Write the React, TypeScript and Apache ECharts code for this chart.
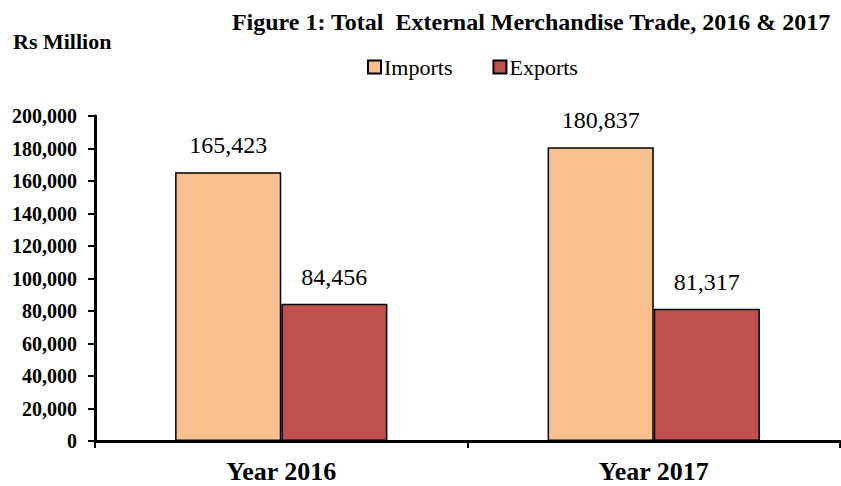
import React, { useEffect, useRef } from "react";
import * as echarts from "echarts";

const categories = ["Year 2016", "Year 2017"];
const imports = [165423, 180837];
const exports_ = [84456, 81317];
const yMin = 0;
const yMax = 200000;
const yInterval = 20000;

const FONT = "'Liberation Serif', 'Times New Roman', serif";

export default function App() {
  const ref = useRef<HTMLDivElement>(null);
  useEffect(() => {
    const chart = echarts.init(ref.current!, null, { renderer: "svg" });
    const fmt = (v: number) => v.toLocaleString("en-US");
    chart.setOption({
      animation: false,
      textStyle: { fontFamily: FONT, color: "#000" },
      title: [
        {
          text: "Figure 1: Total  External Merchandise Trade, 2016 & 2017",
          right: 5,
          top: 5,
          textStyle: { fontFamily: FONT, fontWeight: "bold", fontSize: 24, color: "#000" },
        },
        {
          text: "Rs Million",
          left: 8,
          top: 25,
          textStyle: { fontFamily: FONT, fontWeight: "bold", fontSize: 22, color: "#000" },
        },
      ],
      legend: {
        top: 51,
        left: 362,
        itemWidth: 13,
        itemHeight: 13,
        itemGap: 40,
        icon: "rect",
        textStyle: { fontFamily: FONT, fontSize: 22, color: "#000", padding: [0, 0, 0, -2] },
        data: ["Imports", "Exports"],
      },
      grid: { left: 95, right: 1, top: 116, bottom: 45, containLabel: false },
      xAxis: {
        type: "category",
        data: categories,
        axisLine: { lineStyle: { color: "#000", width: 3 } },
        axisTick: { show: true, length: 7, lineStyle: { color: "#000", width: 2 } },
        axisLabel: { fontFamily: FONT, fontWeight: "bold", fontSize: 26, color: "#000", margin: 17 },
      },
      yAxis: {
        type: "value",
        min: yMin,
        max: yMax,
        interval: yInterval,
        splitLine: { show: false },
        axisLine: { show: true, lineStyle: { color: "#000", width: 3 } },
        axisTick: { show: true, length: 7, lineStyle: { color: "#000", width: 2 } },
        axisLabel: {
          fontFamily: FONT,
          fontWeight: "bold",
          fontSize: 20,
          color: "#000",
          margin: 18,
          formatter: (v: number) => fmt(v),
        },
      },
      series: [
        {
          name: "Imports",
          type: "bar",
          data: imports,
          barGap: "0%",
          barCategoryGap: "43%",
          itemStyle: { color: "#F9C08F", borderColor: "#000", borderWidth: 1.5 },
          label: {
            show: true,
            position: "top",
            distance: 15,
            fontFamily: FONT,
            fontSize: 24,
            color: "#000",
            formatter: (p: any) => fmt(p.value),
          },
        },
        {
          name: "Exports",
          type: "bar",
          data: exports_,
          itemStyle: { color: "#C0504D", borderColor: "#000", borderWidth: 1.5 },
          label: {
            show: true,
            position: "top",
            distance: 15,
            fontFamily: FONT,
            fontSize: 24,
            color: "#000",
            formatter: (p: any) => fmt(p.value),
          },
        },
      ],
    });
    return () => chart.dispose();
  }, []);
  return <div ref={ref} style={{ width: 841, height: 486, position: "absolute", left: 0, top: 0 }} />;
}
